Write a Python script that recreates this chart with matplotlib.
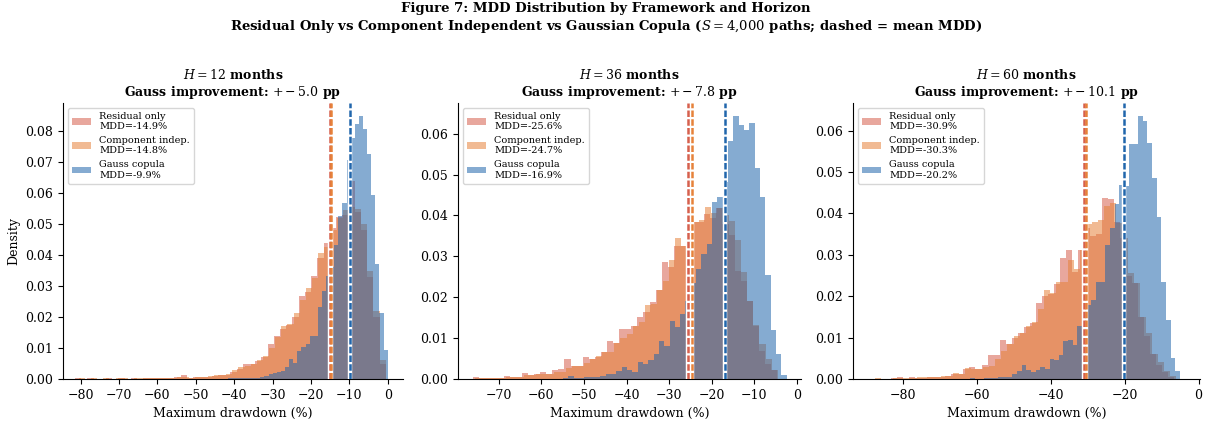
import matplotlib
matplotlib.use("Agg")
import matplotlib.pyplot as plt
import numpy as np

plt.rcParams["font.family"] = "DejaVu Serif"
plt.rcParams["mathtext.fontset"] = "dejavuserif"

series_names = ["Residual only", "Component indep.", "Gauss copula"]
series_colors = ["#d6604d", "#e6823a", "#2166ac"]
horizons = [12, 36, 60]
gauss_improvement = [-5.0, -7.8, -10.1]

# mean MDD (%) per horizon: residual, component, gauss
mean_h12 = [-14.9, -14.8, -9.9]
mean_h36 = [-25.6, -24.7, -16.9]
mean_h60 = [-30.9, -30.3, -20.2]

# histogram densities (50 bins per series, low -> high)
h12_resid_range = (-81.5, -0.5)
h12_resid = [0.0002, 0.0, 0.0002, 0.0, 0.0, 0.0002, 0.0, 0.0002, 0.0, 0.0002,
             0.0, 0.0002, 0.0002, 0.0003, 0.0002, 0.0004, 0.0005, 0.0012, 0.0003, 0.0005,
             0.0006, 0.0008, 0.0010, 0.0012, 0.0014, 0.0022, 0.0032, 0.0049, 0.0048, 0.0058,
             0.0070, 0.0114, 0.0140, 0.0160, 0.0175, 0.0200, 0.0269, 0.0280, 0.0333, 0.0390,
             0.0440, 0.0487, 0.0522, 0.0530, 0.0640, 0.0540, 0.0480, 0.0330, 0.0200, 0.0050]
h12_comp_range = (-80.5, -0.5)
h12_comp = [0.0002, 0.0, 0.0002, 0.0, 0.0002, 0.0, 0.0002, 0.0002, 0.0, 0.0002,
            0.0002, 0.0002, 0.0003, 0.0002, 0.0003, 0.0003, 0.0005, 0.0005, 0.0003, 0.0008,
            0.0008, 0.0010, 0.0012, 0.0014, 0.0016, 0.0028, 0.0040, 0.0042, 0.0050, 0.0060,
            0.0075, 0.0100, 0.0135, 0.0170, 0.0178, 0.0212, 0.0255, 0.0295, 0.0325, 0.0405,
            0.0425, 0.0480, 0.0520, 0.0545, 0.0555, 0.0550, 0.0500, 0.0350, 0.0220, 0.0060]
h12_gauss_range = (-53.5, 0.0)
h12_gauss = [0.0, 0.0, 0.0, 0.0001, 0.0, 0.0, 0.0001, 0.0, 0.0001, 0.0001,
             0.0001, 0.0002, 0.0002, 0.0002, 0.0003, 0.0003, 0.0003, 0.0003, 0.0004, 0.0006,
             0.0011, 0.0015, 0.0019, 0.0023, 0.0026, 0.0039, 0.0063, 0.0053, 0.0090, 0.0103,
             0.0114, 0.0140, 0.0140, 0.0232, 0.0285, 0.0333, 0.0360, 0.0433, 0.0526, 0.0569,
             0.0708, 0.0778, 0.0824, 0.0848, 0.0805, 0.0725, 0.0593, 0.0371, 0.0212, 0.0092]

h36_resid_range = (-76.0, -4.6)
h36_resid = [0.0004, 0.0002, 0.0002, 0.0002, 0.0002, 0.0007, 0.0004, 0.0004, 0.0014, 0.0009,
             0.0013, 0.0016, 0.0013, 0.0021, 0.0024, 0.0048, 0.0031, 0.0033, 0.0053, 0.0050,
             0.0055, 0.0067, 0.0092, 0.0089, 0.0123, 0.0123, 0.0129, 0.0151, 0.0163, 0.0189,
             0.0218, 0.0285, 0.0275, 0.0326, 0.0326, 0.0368, 0.0385, 0.0385, 0.0403, 0.0395,
             0.0418, 0.0380, 0.0353, 0.0263, 0.0240, 0.0192, 0.0130, 0.0068, 0.0037, 0.0021]
h36_comp_range = (-75.5, -4.5)
h36_comp = [0.0002, 0.0002, 0.0002, 0.0002, 0.0002, 0.0005, 0.0004, 0.0004, 0.0009, 0.0009,
            0.0013, 0.0012, 0.0013, 0.0016, 0.0018, 0.0027, 0.0031, 0.0033, 0.0039, 0.0050,
            0.0057, 0.0067, 0.0067, 0.0089, 0.0100, 0.0110, 0.0129, 0.0140, 0.0180, 0.0183,
            0.0218, 0.0240, 0.0290, 0.0346, 0.0326, 0.0368, 0.0385, 0.0390, 0.0421, 0.0407,
            0.0418, 0.0400, 0.0387, 0.0340, 0.0262, 0.0190, 0.0133, 0.0085, 0.0050, 0.0022]
h36_gauss_range = (-64.9, -2.4)
h36_gauss = [0.0001, 0.0, 0.0, 0.0, 0.0, 0.0001, 0.0, 0.0001, 0.0002, 0.0007,
             0.0002, 0.0003, 0.0004, 0.0005, 0.0004, 0.0008, 0.0012, 0.0013, 0.0020, 0.0029,
             0.0023, 0.0017, 0.0041, 0.0036, 0.0046, 0.0060, 0.0094, 0.0081, 0.0143, 0.0128,
             0.0159, 0.0190, 0.0234, 0.0270, 0.0305, 0.0330, 0.0432, 0.0446, 0.0482, 0.0582,
             0.0643, 0.0621, 0.0610, 0.0626, 0.0517, 0.0446, 0.0254, 0.0119, 0.0060, 0.0011]

h60_resid_range = (-88.0, -6.5)
h60_resid = [0.0001, 0.0001, 0.0001, 0.0002, 0.0004, 0.0001, 0.0004, 0.0002, 0.0003, 0.0004,
             0.0005, 0.0006, 0.0008, 0.0012, 0.0013, 0.0024, 0.0028, 0.0025, 0.0035, 0.0059,
             0.0059, 0.0095, 0.0085, 0.0100, 0.0110, 0.0125, 0.0135, 0.0184, 0.0200, 0.0205,
             0.0230, 0.0292, 0.0312, 0.0258, 0.0312, 0.0364, 0.0346, 0.0350, 0.0437, 0.0435,
             0.0380, 0.0340, 0.0250, 0.0232, 0.0150, 0.0105, 0.0060, 0.0035, 0.0018, 0.0006]
h60_comp_range = (-87.5, -6.0)
h60_comp = [0.0002, 0.0001, 0.0001, 0.0002, 0.0002, 0.0002, 0.0003, 0.0004, 0.0006, 0.0006,
            0.0006, 0.0007, 0.0008, 0.0015, 0.0013, 0.0026, 0.0024, 0.0025, 0.0030, 0.0031,
            0.0049, 0.0067, 0.0085, 0.0105, 0.0112, 0.0129, 0.0137, 0.0169, 0.0214, 0.0208,
            0.0234, 0.0234, 0.0287, 0.0266, 0.0312, 0.0375, 0.0380, 0.0384, 0.0418, 0.0425,
            0.0376, 0.0340, 0.0255, 0.0232, 0.0150, 0.0110, 0.0060, 0.0040, 0.0020, 0.0008]
h60_gauss_range = (-68.0, -5.0)
h60_gauss = [0.0001, 0.0, 0.0001, 0.0, 0.0001, 0.0002, 0.0001, 0.0001, 0.0002, 0.0002,
             0.0003, 0.0004, 0.0005, 0.0006, 0.0013, 0.0019, 0.0033, 0.0022, 0.0017, 0.0021,
             0.0029, 0.0025, 0.0049, 0.0047, 0.0057, 0.0092, 0.0095, 0.0081, 0.0129, 0.0159,
             0.0178, 0.0191, 0.0234, 0.0234, 0.0324, 0.0364, 0.0422, 0.0469, 0.0467, 0.0567,
             0.0567, 0.0635, 0.0623, 0.0571, 0.0485, 0.0392, 0.0234, 0.0143, 0.0051, 0.0019]

panels = [
    (horizons[0], gauss_improvement[0], mean_h12,
     [(h12_resid_range, h12_resid), (h12_comp_range, h12_comp), (h12_gauss_range, h12_gauss)]),
    (horizons[1], gauss_improvement[1], mean_h36,
     [(h36_resid_range, h36_resid), (h36_comp_range, h36_comp), (h36_gauss_range, h36_gauss)]),
    (horizons[2], gauss_improvement[2], mean_h60,
     [(h60_resid_range, h60_resid), (h60_comp_range, h60_comp), (h60_gauss_range, h60_gauss)]),
]

W, H = 1212, 423
fig = plt.figure(figsize=(W / 100, H / 100), dpi=100)
axes_px = [(63, 340), (458, 343), (853, 347)]
x_limits = [(-84.6, 4.0), (-79.6, 1.0), (-93.4, 0.4)]

for k, (horizon, improvement, means, hists) in enumerate(panels):
    left, width = axes_px[k]
    ax = fig.add_axes([left / W, (H - 379) / H, width / W, 276 / H])

    for (rng, dens), name, color, mu in zip(hists, series_names, series_colors, means):
        edges = np.linspace(rng[0], rng[1], len(dens) + 1)
        centers = 0.5 * (edges[:-1] + edges[1:])
        ax.hist(centers, bins=edges, weights=dens, color=color, alpha=0.55,
                label=f"{name}\nMDD={mu:.1f}%")

    for color, mu in zip(series_colors, means):
        ax.axvline(mu, color="white", lw=3.2, zorder=3)
        ax.axvline(mu, color=color, lw=1.8, ls=(0, (2.6, 0.9)), zorder=4)

    ax.set_xlim(*x_limits[k])
    ax.set_title(f"$H={horizon}$ months\nGauss improvement: $+{improvement}$ pp",
                 fontsize=9, fontweight="bold", pad=5)
    ax.set_xlabel("Maximum drawdown (%)", fontsize=9)
    if k == 0:
        ax.set_ylabel("Density", fontsize=9)
    ax.tick_params(labelsize=9)
    ax.spines["top"].set_visible(False)
    ax.spines["right"].set_visible(False)
    ax.legend(loc="upper left", fontsize=7)

fig.suptitle("Figure 7: MDD Distribution by Framework and Horizon\n"
             "Residual Only vs Component Independent vs Gaussian Copula "
             "($S=4{,}000$ paths; dashed = mean MDD)",
             fontsize=9.5, fontweight="bold", y=0.995, va="top")

fig.savefig("out.png", dpi=100)
